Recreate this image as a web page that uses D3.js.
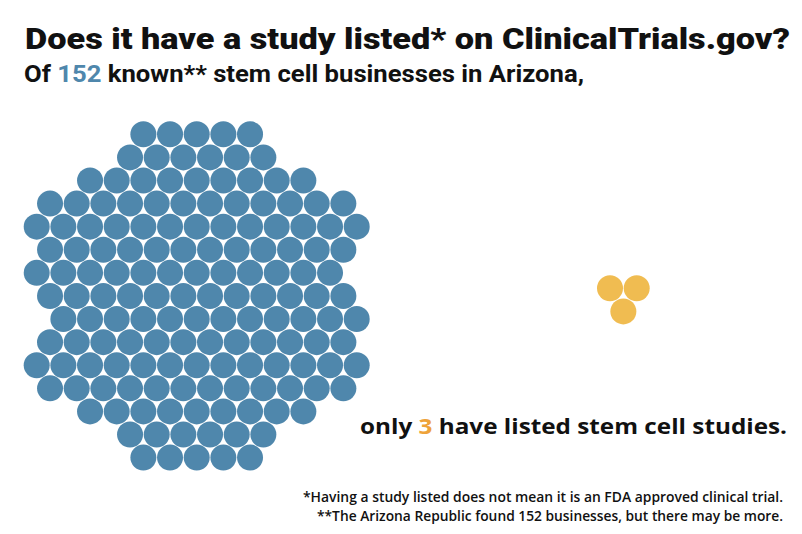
<!DOCTYPE html>
<html>
<head>
<meta charset="utf-8">
<script src="https://cdn.jsdelivr.net/npm/d3@7"></script>
<style>
  body { margin: 0; background: #fff; }
  text { fill: #111; }
</style>
</head>
<body>
<div id="chart-area"></div>
<script>
// Counts
const totalBusinesses = 152;
const withStudies = 3;

// Blob layout: circles per row and first half-column of each row
const blueRowCounts = [5, 6, 9, 12, 13, 12, 12, 12, 12, 12, 13, 12, 9, 6, 5];
const blueRowStart  = [8, 7, 4, 1, 0, 1, 0, 1, 2, 1, 0, 1, 4, 7, 8];
const yellowRowCounts = [2, 1];
const yellowRowStart  = [0, 1];

const titleText = "Does it have a study listed* on ClinicalTrials.gov?";
const notes = [
  "*Having a study listed does not mean it is an FDA approved clinical trial.",
  "**The Arizona Republic found " + totalBusinesses + " businesses, but there may be more."
];

const blue = "#4f87ac";
const yellow = "#f0bc51";

let width = 802, height = 534;

let svg = d3.select("#chart-area")
  .append("svg")
    .attr("width", width)
    .attr("height", height);

// turn row layout into grid cells
function cells(counts, starts){
  let out = [];
  counts.forEach(function(n, r){
    for (let i = 0; i < n; i++) out.push({ row: r, col: starts[r] + i * 2 });
  });
  return out;
}

// fit text to a target width
function fit(sel, w){
  sel.attr("textLength", w).attr("lengthAdjust", "spacingAndGlyphs");
}

// Blue cluster
let bx = d3.scaleLinear().domain([0, 24]).range([36.7, 356.7]);
let by = d3.scaleLinear().domain([0, 14]).range([134.3, 457.6]);

svg.append("g")
  .selectAll("circle")
  .data(cells(blueRowCounts, blueRowStart))
  .enter()
  .append("circle")
    .attr("cx", d => bx(d.col))
    .attr("cy", d => by(d.row))
    .attr("r", 13)
    .attr("fill", blue);

// Yellow cluster
let yx = d3.scaleLinear().domain([0, 2]).range([610, 636.7]);
let yy = d3.scaleLinear().domain([0, 1]).range([288.3, 311.4]);

svg.append("g")
  .selectAll("circle")
  .data(cells(yellowRowCounts, yellowRowStart))
  .enter()
  .append("circle")
    .attr("cx", d => yx(d.col))
    .attr("cy", d => yy(d.row))
    .attr("r", 13)
    .attr("fill", yellow);

// Title
svg.append("text")
  .attr("x", 25)
  .attr("y", 48.5)
  .attr("font-family", "Roboto")
  .attr("font-weight", 900)
  .attr("font-size", "29px")
  .text(titleText)
  .call(fit, 765);

// Sub-title
let sub = svg.append("text")
  .attr("x", 24)
  .attr("y", 81.7)
  .attr("font-family", "Roboto")
  .attr("font-weight", 700)
  .attr("font-size", "24px");
sub.append("tspan").text("Of ");
sub.append("tspan").attr("fill", blue).style("fill", blue).text(totalBusinesses);
sub.append("tspan").text(" known** stem cell businesses in Arizona,");
sub.call(fit, 560);

// Lower statement
let low = svg.append("text")
  .attr("x", 787)
  .attr("y", 433.5)
  .attr("text-anchor", "end")
  .attr("font-family", "Open Sans")
  .attr("font-weight", 700)
  .attr("font-size", "22px");
low.append("tspan").text("only ");
low.append("tspan").style("fill", "#eea33a").text(withStudies);
low.append("tspan").text(" have listed stem cell studies.");
low.call(fit, 427);

// Footnotes
svg.selectAll(".note")
  .data(notes)
  .enter()
  .append("text")
    .attr("class", "note")
    .attr("x", 783)
    .attr("y", (d, i) => 501.7 + i * 19)
    .attr("text-anchor", "end")
    .attr("font-family", "Open Sans")
    .attr("font-weight", 600)
    .attr("font-size", "13.5px")
    .text(d => d)
    .each(function(d, i){ fit(d3.select(this), i === 0 ? 480 : 466); });
</script>
</body>
</html>
